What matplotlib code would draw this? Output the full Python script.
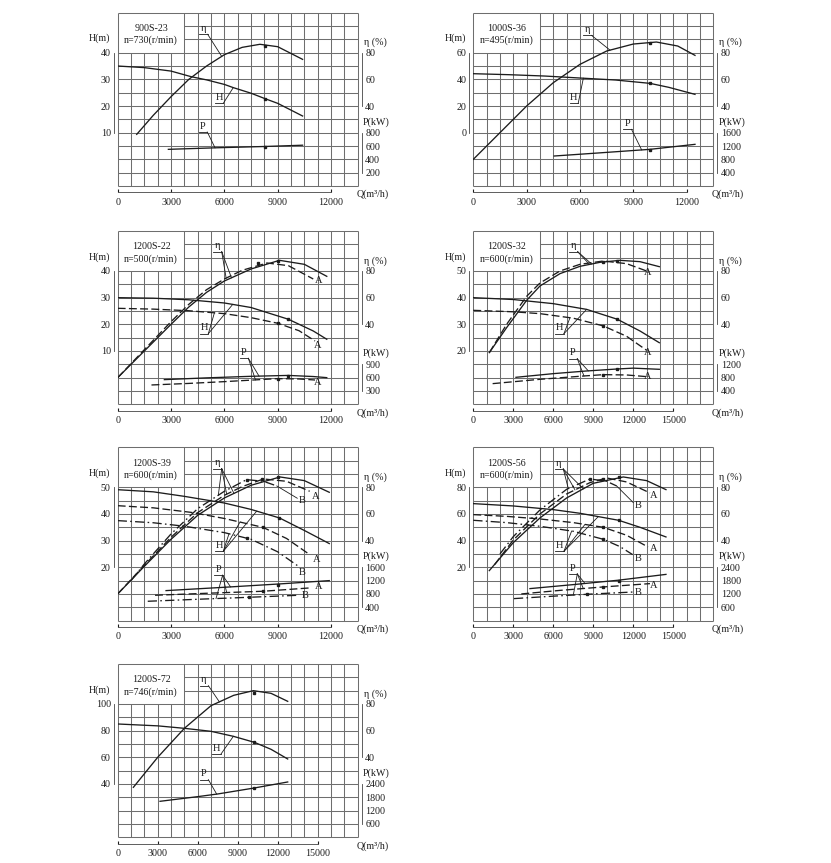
import matplotlib.pyplot as plt
import numpy as np

plt.rcParams['font.family'] = ['Liberation Serif', 'DejaVu Serif']
plt.rcParams['font.size'] = 7.2

# ---- 900S-23, n=730 ----
m23_q_eta = [1070, 2000, 3000, 4000, 5000, 6000, 7000, 8000, 9000, 10400]
m23_eta = [18.75, 33, 47, 60, 70, 78.5, 84, 86.3, 84.5, 75]
m23_q_h = [0, 1500, 3000, 4130, 5000, 6000, 6500, 7500, 8290, 9000, 10400]
m23_h = [35, 34.4, 33.1, 31, 29.8, 28.1, 26.9, 24.8, 22.75, 21, 16.25]
m23_q_p = [2850, 5500, 8290, 10400]
m23_p = [550, 573, 593, 612]
m23_eta_pt = (8290, 85)
m23_h_pt = (8290, 22.75)
m23_p_pt = (8290, 590)

# ---- 1000S-36, n=495 ----
m36_q_eta = [0, 1500, 3000, 4500, 6000, 7500, 9000, 10300, 11500, 12470]
m36_eta = [0, 20, 40, 57.5, 71.25, 81.25, 86.5, 88, 85, 78]
m36_q_h = [0, 2000, 4000, 6000, 8000, 9940, 11000, 12470]
m36_h = [44.25, 43.5, 42.5, 41, 39.5, 37, 34, 28.75]
m36_q_p = [4550, 7000, 9940, 12470]
m36_p = [900, 990, 1100, 1250]
m36_eta_pt = (9940, 87.5)
m36_h_pt = (9940, 37)
m36_p_pt = (9940, 1080)

# ---- 1200S-22, n=500 ----
m22_q_eta = [0, 1500, 3000, 4000, 5000, 6000, 7500, 9100, 10500, 11760]
m22_eta = [0, 20, 40, 53, 64, 72.5, 81.5, 88, 85, 76]
m22_q_eta_a = [0, 1500, 3000, 4000, 5000, 6000, 7000, 8400, 9600, 11000]
m22_eta_a = [0, 21, 42, 55, 66, 74, 80.5, 86, 84, 74]
m22_q_h = [0, 2000, 4000, 6000, 7500, 9600, 11000, 11760]
m22_h = [30, 29.8, 29.2, 28, 26.3, 21.9, 17.5, 14.4]
m22_q_h_a = [0, 2000, 4000, 6000, 7500, 9000, 10200, 11100]
m22_h_a = [26, 25.7, 25.1, 24, 22.5, 20.4, 17.6, 13.75]
m22_q_p = [2625, 5000, 7500, 9600, 11000, 11760]
m22_p = [555, 595, 630, 650, 625, 600]
m22_q_p_a = [1900, 4000, 6000, 9000, 10200, 11100]
m22_p_a = [435, 470, 510, 578, 570, 547]
m22_eta_pt, m22_eta_a_pt = (9000, 87.5), (7900, 86)
m22_h_pt, m22_h_a_pt = (9600, 21.9), (9000, 20.4)
m22_p_pt, m22_p_a_pt = (9600, 645), (9000, 575)

# ---- 1200S-32, n=600 ----
m32_q_eta = [1200, 2500, 4000, 5000, 6500, 8000, 9500, 11000, 12500, 13950]
m32_eta = [18.75, 37.5, 58, 68.75, 78, 83.5, 86.5, 88, 87, 83.25]
m32_q_eta_a = [1200, 2500, 4000, 5000, 6500, 8000, 9750, 11500, 13000]
m32_eta_a = [18.75, 40, 61, 71, 80, 85, 87.5, 85.5, 80]
m32_q_h = [0, 3000, 6000, 8500, 10800, 12500, 13950]
m32_h = [40, 39.3, 37.75, 35.6, 31.9, 27.5, 23.1]
m32_q_h_a = [0, 3000, 5000, 7500, 9750, 11500, 13000]
m32_h_a = [35.25, 34.7, 34, 32.3, 29.4, 25.5, 20.25]
m32_q_p = [3200, 6000, 8500, 10800, 12000, 13950]
m32_p = [810, 920, 1000, 1060, 1085, 1050]
m32_q_p_a = [1450, 5000, 8300, 9750, 11500, 13000]
m32_p_a = [620, 750, 850, 890, 880, 830]
m32_eta_pt, m32_eta_a_pt = (10800, 87.5), (9750, 86.75)
m32_h_pt, m32_h_a_pt = (10800, 31.9), (9750, 29.4)
m32_p_pt, m32_p_a_pt = (10800, 1060), (9750, 890)

# ---- 1200S-39, n=600 ----
m39_q_eta = [0, 1500, 3000, 4500, 6000, 7500, 9130, 10500, 11900]
m39_eta = [0, 20.75, 41, 59, 72, 81.5, 87.75, 85, 76.25]
m39_q_eta_a = [0, 1500, 3000, 4500, 6000, 7000, 8200, 9500, 10800]
m39_eta_a = [0, 21.5, 42.5, 61, 74, 80.5, 86.25, 84.5, 77]
m39_q_eta_b = [750, 1500, 3000, 4500, 6000, 7250, 8200, 8950]
m39_eta_b = [10, 22.5, 45, 64, 77, 85.75, 84.5, 81]
m39_q_h = [0, 2000, 3750, 6000, 7500, 9100, 10500, 11900]
m39_h = [49.1, 48.3, 46.6, 44.1, 41.7, 38.5, 33.8, 28.9]
m39_q_h_a = [0, 2000, 4125, 6000, 8160, 9500, 10800]
m39_h_a = [43.1, 42.3, 40.6, 38.3, 35, 30.8, 24.75]
m39_q_h_b = [0, 2000, 3750, 6000, 7500, 9000, 10160]
m39_h_b = [37.5, 36.7, 35.4, 33, 30.5, 25.8, 20.4]
m39_q_p = [2720, 6000, 9100, 11900]
m39_p = [900, 1000, 1100, 1200]
m39_q_p_a = [2100, 5000, 8160, 10800]
m39_p_a = [760, 820, 880, 980]
m39_q_p_b = [1690, 4500, 7400, 10160]
m39_p_b = [580, 640, 700, 760]
m39_eta_pt, m39_eta_a_pt, m39_eta_b_pt = (9000, 87.5), (8100, 86.5), (7250, 85.75)
m39_h_pt, m39_h_a_pt, m39_h_b_pt = (9100, 38.5), (8160, 35), (7250, 31)
m39_p_pt, m39_p_a_pt, m39_p_b_pt = (9000, 1080), (8160, 880), (7400, 700)

# ---- 1200S-56, n=600 ----
m56_q_eta = [1200, 3000, 5000, 7000, 9000, 11250, 13000, 14450]
m56_eta = [17.5, 38.5, 57, 72, 83, 87.75, 85, 78.25]
m56_q_eta_a = [1600, 3000, 5000, 7000, 8750, 10000, 11500, 13250]
m56_eta_a = [22, 40.5, 60, 75, 83.5, 87, 84, 75.75]
m56_q_eta_b = [2000, 3000, 5000, 7000, 8750, 10000, 10750]
m56_eta_b = [30, 43, 63, 78.5, 86.25, 84.5, 81]
m56_q_h = [0, 3000, 6000, 8000, 10900, 12500, 14450]
m56_h = [67.75, 66, 63.25, 60.5, 55.25, 50, 42.75]
m56_q_h_a = [0, 2500, 5000, 7500, 9750, 11500, 13100]
m56_h_a = [59.5, 58.2, 56.25, 53.5, 50, 44, 35.25]
m56_q_h_b = [0, 2500, 5000, 7500, 9750, 11000, 11950]
m56_h_b = [55.25, 53.5, 50.75, 47, 41, 35.5, 29.5]
m56_q_p = [4250, 7500, 10900, 14450]
m56_p = [1440, 1620, 1820, 2080]
m56_q_p_a = [3600, 6500, 9750, 13250]
m56_p_a = [1200, 1360, 1515, 1665]
m56_q_p_b = [3050, 6000, 9000, 12100]
m56_p_b = [990, 1100, 1200, 1290]
m56_eta_pt, m56_eta_a_pt, m56_eta_b_pt = (10900, 87.5), (9750, 86.5), (8750, 86)
m56_h_pt, m56_h_a_pt, m56_h_b_pt = (10900, 55.25), (9750, 50), (9750, 41)
m56_p_pt, m56_p_a_pt, m56_p_b_pt = (10900, 1800), (9750, 1515), (8500, 1190)

# ---- 1200S-72, n=746 ----
m72_q_eta = [1175, 3000, 5000, 7000, 8700, 10175, 11500, 12750]
m72_eta = [17.5, 40, 61.75, 78.75, 86.5, 90, 88, 82]
m72_q_h = [0, 3000, 5000, 7000, 8675, 10250, 11500, 12750]
m72_h = [85, 83.6, 81.75, 79.5, 75.75, 71.25, 66, 58.75]
m72_q_p = [3175, 6000, 7500, 10250, 12750]
m72_p = [1620, 1830, 1950, 2220, 2490]
m72_eta_pt = (10250, 88)
m72_h_pt = (10250, 71.25)
m72_p_pt = (10250, 2205)

W, H = 831.0, 863.0
GW, GH = 240.0, 173.3
ink = '#1c1c1c'
gridc = '#6e6e6e'
dash = {'': '-', 'A': (0, (6, 2.5)), 'B': (0, (7, 2.5, 1.2, 2.5))}

q12 = [0, 3000, 6000, 9000, 12000]
q15 = [0, 3000, 6000, 9000, 12000, 15000]

panels = [
    dict(name='900S-23', n='n=730(r/min)', pos=(117.7, 12.7), col=750, qt=q12,
         hlim=(-10, 55), hs=5, ht=[10, 20, 30, 40], eta=(2, 0), et=[40, 60, 80],
         pw=(40, 400), pt=[200, 400, 600, 800],
         curves=[('eta', '', m23_q_eta, m23_eta, m23_eta_pt),
                 ('h', '', m23_q_h, m23_h, m23_h_pt),
                 ('p', '', m23_q_p, m23_p, m23_p_pt)],
         tags=[('η', 5060, 46.9, [(0, 5850)]), ('H', 5940, 21.0, [(1, 6500)]),
               ('P', 5040, 10.25, [(2, 5475)])],
         ends=[], leads=[]),
    dict(name='1000S-36', n='n=495(r/min)', pos=(473.3, 12.7), col=750, qt=q12,
         hlim=(-40, 90), hs=10, ht=[0, 20, 40, 60], eta=(1, 20), et=[40, 60, 80],
         pw=(40, 1600), pt=[400, 800, 1200, 1600],
         curves=[('eta', '', m36_q_eta, m36_eta, m36_eta_pt),
                 ('h', '', m36_q_h, m36_h, m36_h_pt),
                 ('p', '', m36_q_p, m36_p, m36_p_pt)],
         tags=[('η', 6650, 73, [(0, 7690)]), ('H', 5900, 22, [(1, 6190)]),
               ('P', 8900, 2.5, [(2, 9470)])],
         ends=[], leads=[]),
    dict(name='1200S-22', n='n=500(r/min)', pos=(117.7, 231), col=750, qt=q12,
         hlim=(-10, 55), hs=5, ht=[10, 20, 30, 40], eta=(2, 0), et=[40, 60, 80],
         pw=(60, 600), pt=[300, 600, 900],
         curves=[('eta', '', m22_q_eta, m22_eta, m22_eta_pt),
                 ('eta', 'A', m22_q_eta_a, m22_eta_a, m22_eta_a_pt),
                 ('h', '', m22_q_h, m22_h, m22_h_pt),
                 ('h', 'A', m22_q_h_a, m22_h_a, m22_h_a_pt),
                 ('p', '', m22_q_p, m22_p, m22_p_pt),
                 ('p', 'A', m22_q_p_a, m22_p_a, m22_p_a_pt)],
         tags=[('η', 5850, 47.25, [(0, 6400), (1, 6100)]),
               ('H', 5100, 16.5, [(3, 5440), (2, 6470)]),
               ('P', 7350, 7.25, [(4, 7950), (5, 7750)])],
         ends=[('A', 11290, 36.25), ('A', 11230, 11.9), ('A', 11230, -1.9)], leads=[]),
    dict(name='1200S-32', n='n=600(r/min)', pos=(473.3, 231), col=1000, qt=q15,
         hlim=(0, 65), hs=5, ht=[20, 30, 40, 50], eta=(2, -20), et=[40, 60, 80],
         pw=(80, 0), pt=[400, 800, 1200],
         curves=[('eta', '', m32_q_eta, m32_eta, m32_eta_pt),
                 ('eta', 'A', m32_q_eta_a, m32_eta_a, m32_eta_a_pt),
                 ('h', '', m32_q_h, m32_h, m32_h_pt),
                 ('h', 'A', m32_q_h_a, m32_h_a, m32_h_a_pt),
                 ('p', '', m32_q_p, m32_p, m32_p_pt),
                 ('p', 'A', m32_q_p_a, m32_p_a, m32_p_a_pt)],
         tags=[('η', 7825, 57.25, [(1, 8625), (0, 8875)]),
               ('H', 6800, 26.5, [(3, 7250), (2, 8500)]),
               ('P', 7800, 17.1, [(4, 8625), (5, 8300)])],
         ends=[('A', 13050, 49.4), ('A', 13050, 19.4), ('A', 13050, 10.25)], leads=[]),
    dict(name='1200S-39', n='n=600(r/min)', pos=(117.7, 447.3), col=750, qt=q12,
         hlim=(0, 65), hs=5, ht=[20, 30, 40, 50], eta=(2, -20), et=[40, 60, 80],
         pw=(80, 0), pt=[400, 800, 1200, 1600],
         curves=[('eta', '', m39_q_eta, m39_eta, m39_eta_pt),
                 ('eta', 'A', m39_q_eta_a, m39_eta_a, m39_eta_a_pt),
                 ('eta', 'B', m39_q_eta_b, m39_eta_b, m39_eta_b_pt),
                 ('h', '', m39_q_h, m39_h, m39_h_pt),
                 ('h', 'A', m39_q_h_a, m39_h_a, m39_h_a_pt),
                 ('h', 'B', m39_q_h_b, m39_h_b, m39_h_b_pt),
                 ('p', '', m39_q_p, m39_p, m39_p_pt),
                 ('p', 'A', m39_q_p_a, m39_p_a, m39_p_a_pt),
                 ('p', 'B', m39_q_p_b, m39_p_b, m39_p_b_pt)],
         tags=[('η', 5850, 57, [(2, 5660), (1, 6130), (0, 6540)]),
               ('H', 5940, 26, [(5, 6260), (4, 6880), (3, 7820)]),
               ('P', 5900, 17, [(8, 5530), (7, 6130), (6, 6350)])],
         ends=[('A', 11160, 46.6), ('B', 10400, 45), ('A', 11200, 23.1),
               ('B', 10400, 17.9), ('A', 11290, 12.9), ('B', 10540, 9.5)],
         leads=[(2, 10100, 45.9)]),
    dict(name='1200S-56', n='n=600(r/min)', pos=(473.3, 447.3), col=1000, qt=q15,
         hlim=(-20, 110), hs=10, ht=[20, 40, 60, 80], eta=(1, 0), et=[40, 60, 80],
         pw=(60, 1200), pt=[600, 1200, 1800, 2400],
         curves=[('eta', '', m56_q_eta, m56_eta, m56_eta_pt),
                 ('eta', 'A', m56_q_eta_a, m56_eta_a, m56_eta_a_pt),
                 ('eta', 'B', m56_q_eta_b, m56_eta_b, m56_eta_b_pt),
                 ('h', '', m56_q_h, m56_h, m56_h_pt),
                 ('h', 'A', m56_q_h_a, m56_h_a, m56_h_a_pt),
                 ('h', 'B', m56_q_h_b, m56_h_b, m56_h_b_pt),
                 ('p', '', m56_q_p, m56_p, m56_p_pt),
                 ('p', 'A', m56_q_p_a, m56_p_a, m56_p_a_pt),
                 ('p', 'B', m56_q_p_b, m56_p_b, m56_p_b_pt)],
         tags=[('η', 6750, 93.75, [(2, 7125), (1, 7625), (0, 8250)]),
               ('H', 6800, 32, [(5, 7375), (4, 8375), (3, 9375)]),
               ('P', 7800, 15, [(8, 7500), (7, 8250), (6, 8375)])],
         ends=[('A', 13500, 73.75), ('B', 12375, 66.25), ('A', 13500, 33.75),
               ('B', 12375, 26.25), ('A', 13500, 6.25), ('B', 12375, 1.25)],
         leads=[(2, 12000, 68.5)]),
    dict(name='1200S-72', n='n=746(r/min)', pos=(117.7, 664), col=1000, qt=q15,
         hlim=(0, 130), hs=10, ht=[40, 60, 80, 100], eta=(1, -20), et=[40, 60, 80],
         pw=(60, 0), pt=[600, 1200, 1800, 2400],
         curves=[('eta', '', m72_q_eta, m72_eta, m72_eta_pt),
                 ('h', '', m72_q_h, m72_h, m72_h_pt),
                 ('p', '', m72_q_p, m72_p, m72_p_pt)],
         tags=[('η', 6800, 113.75, [(0, 7625)]), ('H', 7750, 62.5, [(1, 8675)]),
               ('P', 6800, 43.25, [(2, 7425)])],
         ends=[], leads=[]),
]

fig = plt.figure(figsize=(W / 100, H / 100), dpi=100)


def draw(sp):
    x0, y0 = sp['pos']
    ax = fig.add_axes([x0 / W, 1 - (y0 + GH) / H, GW / W, GH / H])
    col, hs = sp['col'], sp['hs']
    lo, hi = sp['hlim']
    qmax = 18 * col
    ax.set_xlim(0, qmax)
    ax.set_ylim(lo, hi)
    a, b = sp['eta']
    c, d = sp['pw']

    def to_h(kind, v):
        v = np.asarray(v, dtype=float)
        if kind == 'eta':
            return (v - b) / a
        if kind == 'p':
            return (v - d) / c
        return v

    # grid, with the blank box for the name in the top left corner
    box_q, box_h = 5 * col, hi - 3 * hs
    for q in np.arange(0, qmax + 1, col):
        top = box_h if 0 < q < box_q else hi
        ax.vlines(q, lo, top, color=gridc, lw=0.75, clip_on=False, zorder=1)
    for h in np.arange(lo, hi + 1, hs):
        left = box_q if box_h < h < hi else 0
        ax.hlines(h, left, qmax, color=gridc, lw=0.75, clip_on=False, zorder=1)

    ax.text(2.5 * col, hi - 1.2 * hs, sp['name'], ha='center', va='center', color=ink)
    ax.text(2.5 * col, hi - 2.1 * hs, sp['n'], ha='center', va='center', color=ink)

    # curves
    hv = []
    for kind, var, q, v, pt in sp['curves']:
        hh = to_h(kind, v)
        hv.append((q, hh))
        ax.plot(q, hh, color=ink, lw=0.95, linestyle=dash[var], zorder=3)
        ax.plot(pt[0], to_h(kind, pt[1]), 's', ms=1.6, color=ink, zorder=4)

    # curve tags with underline and leader lines
    w = 0.65 * col
    for s, qe, he, targets in sp['tags']:
        ax.plot([qe - w, qe], [he, he], color=ink, lw=0.6, zorder=3)
        ax.text(qe - w / 2, he + 0.1 * hs, s, ha='center', va='bottom', color=ink, fontsize=7.5)
        for ci, tq in targets:
            q, hh = hv[ci]
            ax.plot([qe, tq], [he, np.interp(tq, q, hh)], color=ink, lw=0.6, zorder=3)
    for ci, tq, th in sp['leads']:
        q, hh = hv[ci]
        ax.plot([q[-1], tq], [hh[-1], th], color=ink, lw=0.6, zorder=3)
    for s, tq, th in sp['ends']:
        ax.text(tq, th, s, ha='center', va='center', color=ink, fontsize=7.5)

    # axes
    for side in ['top', 'right']:
        ax.spines[side].set_visible(False)
    ax.spines['left'].set_position(('outward', 3))
    ax.spines['left'].set_bounds(sp['ht'][0], sp['ht'][-1])
    ax.spines['bottom'].set_position(('outward', 4.5))
    ax.spines['bottom'].set_bounds(0, sp['qt'][-1])
    for sn in ['left', 'bottom']:
        ax.spines[sn].set_linewidth(0.6)
        ax.spines[sn].set_color('#444444')
    ax.set_yticks(sp['ht'])
    ax.set_xticks(sp['qt'])
    ax.tick_params(axis='y', length=0, pad=2, colors=ink)
    ax.tick_params(axis='x', length=2, direction='in', pad=4, colors=ink)

    off = 1 + 4 / GW
    sec_e = ax.secondary_yaxis(off, functions=(lambda h: a * h + b, lambda e: (e - b) / a))
    sec_p = ax.secondary_yaxis(off, functions=(lambda h: c * h + d, lambda p: (p - d) / c))
    for sec, ticks in [(sec_e, sp['et']), (sec_p, sp['pt'])]:
        sec.set_yticks(ticks)
        sec.spines['right'].set_bounds(ticks[0], ticks[-1])
        sec.spines['right'].set_linewidth(0.6)
        sec.spines['right'].set_color('#444444')
        sec.tick_params(axis='y', length=0, pad=2.5, colors=ink)

    yt = ax.get_yaxis_transform()
    ax.text(-7 / GW, sp['ht'][-1] + 1.05 * hs, 'H(m)', transform=yt, ha='right', va='center', color=ink)
    ax.text(1 + 6 / GW, to_h('eta', sp['et'][-1]) + 0.75 * hs, 'η (%)', transform=yt,
            ha='left', va='center', color=ink)
    ax.text(1 + 5 / GW, to_h('p', sp['pt'][-1]) + 0.8 * hs, 'P(kW)', transform=yt,
            ha='left', va='center', color=ink)
    ax.text(0.995, -8.5 / GH, 'Q(m³/h)', transform=ax.transAxes, ha='left', va='center', color=ink)


for sp in panels:
    draw(sp)

fig.savefig('out.png', dpi=100)
